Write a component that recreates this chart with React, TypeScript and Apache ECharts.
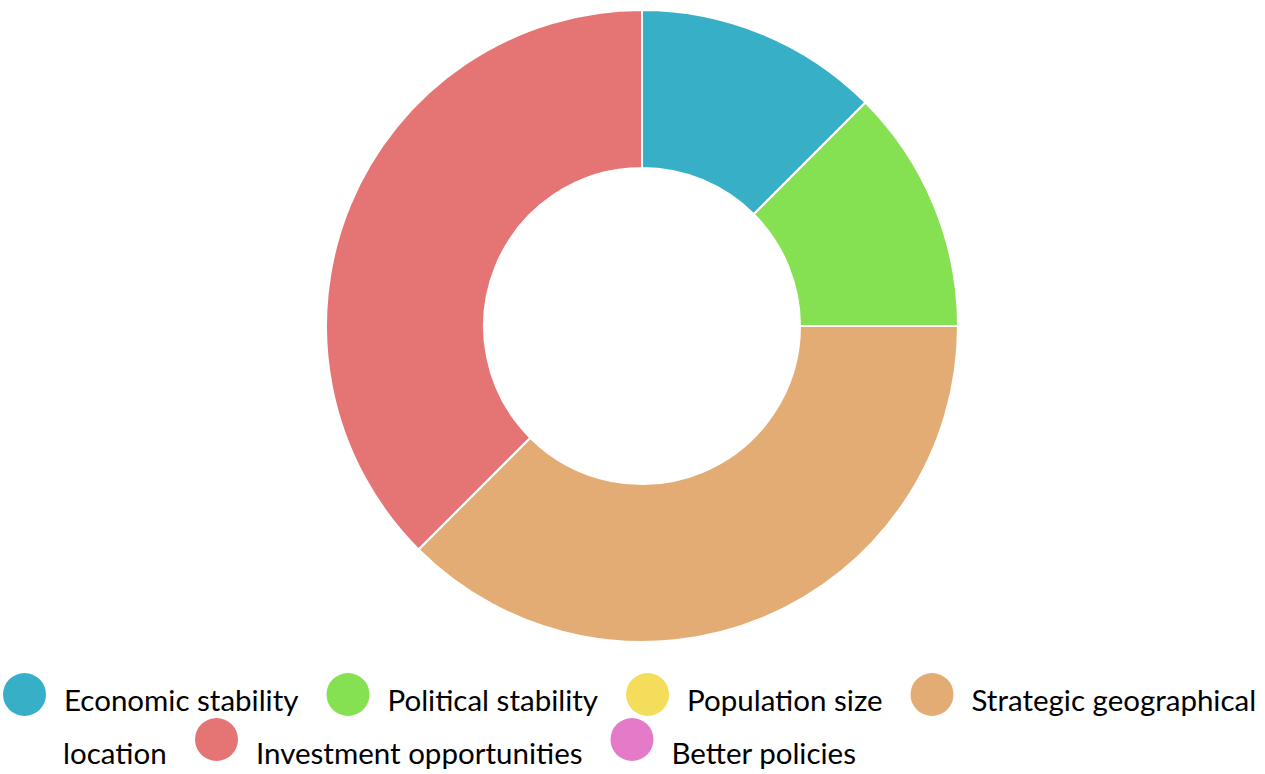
import React, { useEffect, useRef } from "react";
import * as echarts from "echarts";

const categories = [
  "Economic stability",
  "Political stability",
  "Population size",
  "Strategic geographical location",
  "Investment opportunities",
  "Better policies",
];
const values = [1, 1, 0, 3, 3, 0];
const colors = ["#37b0c7", "#85e052", "#f5dd5c", "#e3ac74", "#e57574", "#e57bc8"];

const row1 = categories.slice(0, 4);
const row2 = categories.slice(4);
const wrapName = "Strategic geographical location";
const wrapHead = "Strategic geographical";
const wrapTail = "location";

const FONT = "Lato";
const FS = 29.5;

// circle of diameter 43 at the top of a taller (invisible) box, so the label sits lower
const circleIcon = (h: number) =>
  `path://M0 21.5A21.5 21.5 0 1 1 43 21.5A21.5 21.5 0 1 1 0 21.5ZM21.5 ${h}L21.5 ${h}Z`;

export default function App() {
  const ref = useRef<HTMLDivElement>(null);
  useEffect(() => {
    if (!ref.current) return;
    const chart = echarts.init(ref.current, undefined, { renderer: "svg" });
    const legendCommon = {
      orient: "horizontal",
      itemWidth: 43,
      itemGap: 28,
      padding: 0,
      selectedMode: true,
      itemStyle: { borderWidth: 0 },
      textStyle: {
        fontFamily: FONT,
        fontSize: FS,
        color: "#000",
        padding: [0, 0, 0, 13],
      },
      formatter: (n: string) => (n === wrapName ? wrapHead : n),
    };
    chart.setOption({
      animation: false,
      color: colors,
      legend: [
        { ...legendCommon, data: row1, left: 3, top: 673, itemHeight: 53, icon: circleIcon(53) },
        { ...legendCommon, data: row2, left: 195, top: 718, itemHeight: 69, icon: circleIcon(69) },
      ],
      graphic: [
        {
          type: "text",
          left: 63,
          top: 737,
          style: { text: wrapTail, font: `${FS}px ${FONT}`, fill: "#000" },
        },
      ],
      series: [
        {
          type: "pie",
          center: [642, 326],
          radius: [158, 316],
          startAngle: 90,
          clockwise: true,
          label: { show: false },
          labelLine: { show: false },
          emphasis: { disabled: true },
          itemStyle: { borderColor: "#fff", borderWidth: 2 },
          data: categories.map((name, i) => ({ name, value: values[i] })),
        },
      ],
    });
    return () => chart.dispose();
  }, []);
  return (
    <div
      ref={ref}
      style={{ position: "absolute", left: 0, top: 0, width: 1265, height: 774 }}
    />
  );
}
